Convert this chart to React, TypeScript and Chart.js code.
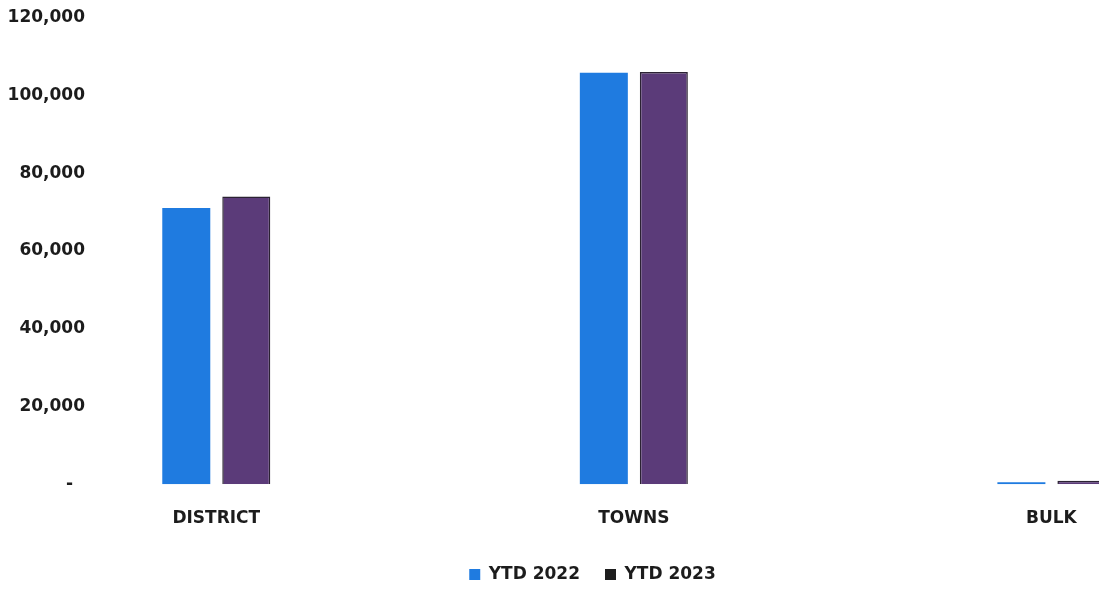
import React, { useEffect, useRef } from "react";
import { Chart, registerables } from "chart.js";

Chart.register(...registerables);

const categories = ["DISTRICT", "TOWNS", "BULK"];
const seriesNames = ["YTD 2022", "YTD 2023"];
const ytd2022 = [71000, 105800, 500];
const ytd2023 = [74000, 106000, 900];
const yTicks = [0, 20000, 40000, 60000, 80000, 100000, 120000];

const BLUE = "#1f7be0";
const PURPLE = "#5b3b79";
const PURPLE_BORDER = "#2b2233";
const LEGEND_2023 = "#1e1e1e";
const TEXT = "#1c1c1c";
const FONT = { family: "'DejaVu Sans', sans-serif", size: 17, weight: "bold" as const };

export default function App() {
  const ref = useRef<HTMLCanvasElement | null>(null);

  useEffect(() => {
    if (!ref.current) return;
    const chart = new Chart(ref.current, {
      type: "bar",
      data: {
        datasets: [
          {
            label: seriesNames[0],
            data: categories.map((_, i) => ({ x: i, y: ytd2022[i] })),
            backgroundColor: BLUE,
            borderWidth: 0,
          },
          {
            label: seriesNames[1],
            data: categories.map((_, i) => ({ x: i, y: ytd2023[i] })),
            backgroundColor: PURPLE,
            borderColor: PURPLE_BORDER,
            borderWidth: 1.5,
          },
        ],
      },
      options: {
        animation: false,
        responsive: false,
        maintainAspectRatio: false,
        categoryPercentage: 0.2874,
        barPercentage: 0.8,
        layout: { padding: { top: 17.5, left: 0, right: 0, bottom: -3 } },
        plugins: {
          tooltip: { enabled: false },
          legend: {
            position: "bottom",
            fullSize: false,
            labels: {
              font: FONT,
              color: TEXT,
              boxWidth: 11,
              boxHeight: 11,
              padding: 25,
              generateLabels: () => [
                { text: seriesNames[0], fillStyle: BLUE, strokeStyle: BLUE, lineWidth: 0, datasetIndex: 0, fontColor: TEXT },
                { text: seriesNames[1], fillStyle: LEGEND_2023, strokeStyle: LEGEND_2023, lineWidth: 0, datasetIndex: 1, fontColor: TEXT },
              ],
            },
          },
        },
        scales: {
          x: {
            type: "linear",
            offset: false,
            min: -0.312,
            max: 2.114,
            grid: { display: false, drawTicks: false },
            border: { display: false },
            afterBuildTicks: (scale: any) => {
              scale.ticks = categories.map((_, i) => ({ value: i }));
            },
            afterFit: (scale: any) => {
              scale.height = 56.7;
              scale.paddingLeft = 0;
              scale.paddingRight = 0;
            },
            ticks: {
              autoSkip: false,
              maxRotation: 0,
              minRotation: 0,
              padding: 24.5,
              font: FONT,
              color: TEXT,
              callback: (v: any) => categories[Math.round(Number(v))] ?? "",
            },
          },
          y: {
            min: 0,
            max: 120000,
            grid: { display: false, drawTicks: false },
            border: { display: false },
            afterBuildTicks: (scale: any) => {
              scale.ticks = yTicks.map((v) => ({ value: v }));
            },
            afterFit: (scale: any) => {
              scale.width = 86;
            },
            ticks: {
              padding: 1,
              font: FONT,
              color: TEXT,
              callback: (v: any) => (Number(v) === 0 ? "-  " : Number(v).toLocaleString("en-US")),
            },
          },
        },
      },
    });
    return () => chart.destroy();
  }, []);

  return (
    <div
      style={{
        position: "fixed",
        left: 0,
        top: 0,
        width: 1099,
        height: 590,
        overflow: "hidden",
        background: "#fff",
      }}
    >
      <canvas ref={ref} width={1099} height={590} style={{ display: "block" }} />
    </div>
  );
}
